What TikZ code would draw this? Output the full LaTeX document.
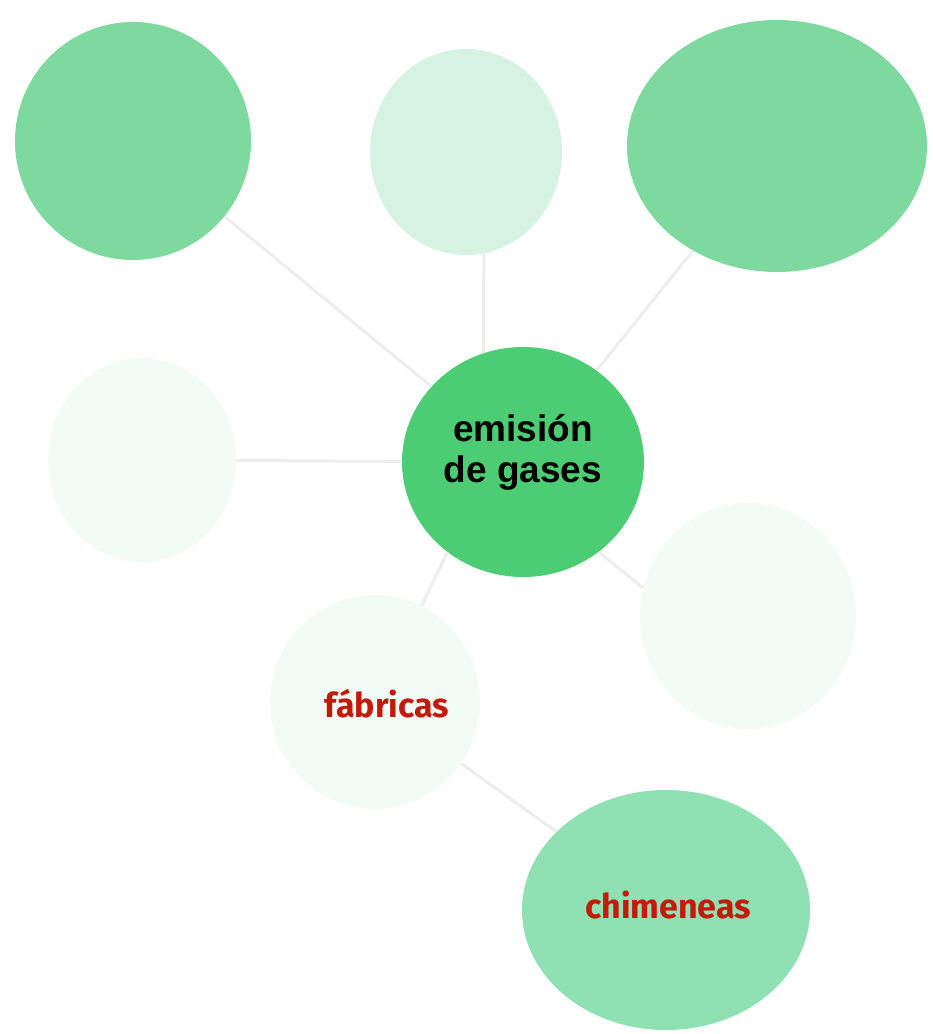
\documentclass[tikz,border=0pt]{standalone}
\usepackage{fontspec}
\setmainfont{Liberation Sans}
\newfontfamily\handfont{Fira Sans}
\usetikzlibrary{shapes.geometric}
\definecolor{medgreen}{HTML}{7DD99E}
\definecolor{lightgreen}{HTML}{8FE0B2}
\definecolor{maingreen}{HTML}{4CCD74}
\definecolor{palegreen}{HTML}{D6F2E3}
\definecolor{faintgreen}{HTML}{F3FBF7}
\definecolor{linegray}{HTML}{EDEDED}
\definecolor{handred}{HTML}{C41A0C}
\tikzset{
  bubble/.style={ellipse, inner sep=0pt, draw=none},
  link/.style={draw=linegray, line width=3pt},
  hand/.style={text=handred, anchor=base, inner sep=0pt, font=\handfont\bfseries\fontsize{34}{38}\selectfont},
}
\begin{document}
\begin{tikzpicture}[x=1pt,y=-1pt]
\useasboundingbox (0,0) rectangle (933,1034);
\fill[white] (0,0) rectangle (933,1034);
\node[bubble, fill=medgreen, minimum width=236pt, minimum height=238pt] (tl) at (133,141) {};
\node[bubble, fill=palegreen, minimum width=192pt, minimum height=206pt] (tm) at (466,152) {};
\node[bubble, fill=medgreen, minimum width=300pt, minimum height=252pt] (tr) at (777,146) {};
\node[bubble, fill=faintgreen, minimum width=188pt, minimum height=204pt] (ml) at (142,460) {};
\node[bubble, fill=maingreen, minimum width=242pt, minimum height=230pt] (c) at (523,462) {};
\node[align=center, inner sep=0pt, font=\bfseries\fontsize{37}{41}\selectfont] (ct) at (523,452) {emisión\\de gases};
\node[bubble, fill=faintgreen, minimum width=216pt, minimum height=226pt] (mr) at (748,616) {};
\node[bubble, fill=faintgreen, minimum width=210pt, minimum height=214pt] (fab) at (375,702) {};
\node[hand] (fabt) at (387,717) {fábricas};
\node[bubble, fill=lightgreen, minimum width=288pt, minimum height=240pt] (chi) at (666,910) {};
\node[hand] (chit) at (668,918) {chimeneas};
\draw[link] (tl) -- (c);
\draw[link] (tm.-80) -- (c.110);
\draw[link] (tr) -- (c);
\draw[link] (ml) -- (c);
\draw[link] (c.-130) -- (fab);
\draw[link] (c.-50) -- (mr.165);
\draw[link] (fab) -- (chi);
\end{tikzpicture}
\end{document}
